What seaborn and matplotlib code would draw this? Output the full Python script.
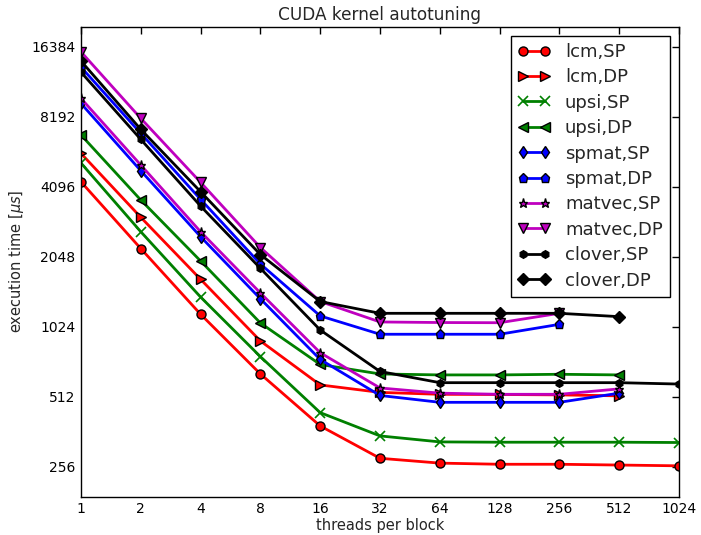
import matplotlib
matplotlib.use("Agg")
import matplotlib.pyplot as plt
import matplotlib.ticker as mticker
import seaborn as sns
import pandas as pd

# threads per block
threads = [1, 2, 4, 8, 16, 32, 64, 128, 256, 512, 1024]

# execution times in microseconds
lcm_sp = [4300, 2220, 1158, 641, 383, 278, 265, 262, 262, 260, 258]
lcm_dp = [5700, 3026, 1637, 889, 575, 534, 524, 523, 521, 516]
upsi_sp = [5180, 2623, 1373, 761, 437, 347, 327, 326, 326, 326, 325]
upsi_dp = [6840, 3591, 1963, 1062, 704, 641, 635, 635, 639, 635]
spmat_sp = [9350, 4801, 2497, 1350, 740, 518, 484, 484, 484, 530]
spmat_dp = [13400, 6952, 3615, 1905, 1139, 950, 950, 950, 1048]
matvec_sp = [9830, 5078, 2623, 1430, 791, 558, 530, 524, 524, 553]
matvec_dp = [15590, 8063, 4279, 2243, 1314, 1073, 1067, 1065, 1169]
clover_sp = [12750, 6548, 3382, 1825, 991, 657, 588, 588, 588, 588, 580]
clover_dp = [14225, 7231, 3899, 2092, 1314, 1169, 1169, 1169, 1169, 1131]

names = ['lcm,SP', 'lcm,DP', 'upsi,SP', 'upsi,DP', 'spmat,SP',
         'spmat,DP', 'matvec,SP', 'matvec,DP', 'clover,SP', 'clover,DP']
series = [lcm_sp, lcm_dp, upsi_sp, upsi_dp, spmat_sp,
          spmat_dp, matvec_sp, matvec_dp, clover_sp, clover_dp]
colors = ['r', 'r', 'g', 'g', 'b', 'b', 'm', 'm', 'k', 'k']
markers = ['o', '>', 'x', '<', 'd', 'p', '*', 'v', 'h', 'D']
msizes = [6.5, 6.5, 6.5, 6.5, 6.5, 6.5, 6.5, 6.5, 5.5, 6.5]

sns.set_style("white")
plt.rcParams['font.family'] = ['DejaVu Sans']
plt.rcParams['xtick.direction'] = 'in'
plt.rcParams['ytick.direction'] = 'in'

fig = plt.figure(figsize=(7.01, 5.35), dpi=100)
ax = fig.add_axes([81/701, 1 - 496.7/535, (679 - 81)/701, (496.7 - 26.7)/535])

for name, vals, c, m, ms in zip(names, series, colors, markers, msizes):
    df = pd.DataFrame({'threads': threads[:len(vals)], 'time': vals})
    edge = c if m == 'x' else 'k'
    sns.lineplot(data=df, x='threads', y='time', ax=ax, color=c, marker=m,
                 markersize=ms, markeredgecolor=edge, markeredgewidth=1 if m != 'x' else 1.2,
                 linewidth=2, label=name)

ax.set_xscale('log', base=2)
ax.set_yscale('log', base=2)
ax.set_xlim(1, 1024)
ax.set_ylim(190, 20000)
ax.set_xticks(threads)
ax.set_yticks([256, 512, 1024, 2048, 4096, 8192, 16384])
ax.xaxis.set_major_formatter(mticker.ScalarFormatter())
ax.yaxis.set_major_formatter(mticker.ScalarFormatter())
ax.xaxis.set_minor_locator(mticker.NullLocator())
ax.yaxis.set_minor_locator(mticker.NullLocator())
ax.tick_params(which='major', direction='in', length=5, width=1, top=True, right=True,
               labelsize=10, colors='k', pad=4)
for s in ax.spines.values():
    s.set_color('k')
    s.set_linewidth(1)

ax.set_xlabel('threads per block', fontsize=10.5, labelpad=1)
ax.set_ylabel(r'execution time [$\mu s$]', fontsize=10.5)
ax.set_title('CUDA kernel autotuning', fontsize=12.2, pad=5)

leg = ax.legend(loc='upper right', numpoints=2, fontsize=13, handlelength=1.8,
                labelspacing=0.41, borderaxespad=0.5, fancybox=False, framealpha=1,
                edgecolor='k')
leg.get_frame().set_linewidth(1)

fig.savefig('out.png', dpi=100)
